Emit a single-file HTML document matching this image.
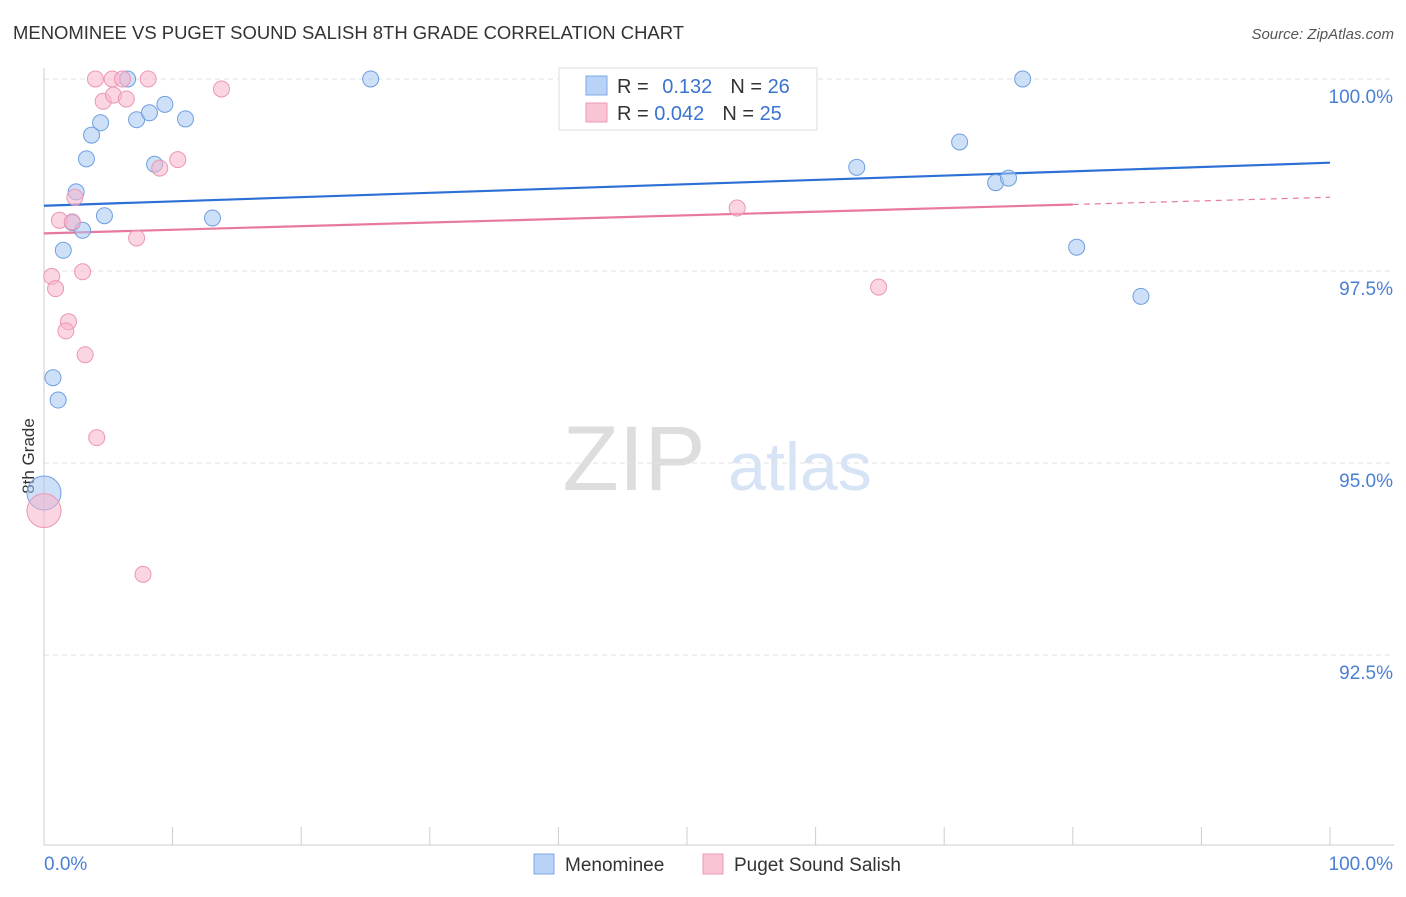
<!DOCTYPE html>
<html><head><meta charset="utf-8"><style>
body{margin:0;background:#fff;font-family:"Liberation Sans",sans-serif;}
svg text{font-family:"Liberation Sans",sans-serif;}
</style></head><body>
<svg id="chart" width="1406" height="892">
<text x="13" y="39" font-size="18" fill="#333" textLength="671" lengthAdjust="spacingAndGlyphs">MENOMINEE VS PUGET SOUND SALISH 8TH GRADE CORRELATION CHART</text>
<text x="1394" y="39" font-size="15" fill="#555" text-anchor="end" font-style="italic">Source: ZipAtlas.com</text>
<text transform="translate(34,456) rotate(-90)" font-size="17" fill="#333" text-anchor="middle">8th Grade</text>
<text x="634" y="490" font-size="92" fill="#ddd" text-anchor="middle" font-family="Liberation Serif">ZIP</text>
<text x="800" y="490" font-size="68" fill="#d6e4f6" text-anchor="middle">atlas</text>
<g id="grid"></g><g id="axes"></g><g id="lines"></g><g id="dots"></g>
<g>
<rect x="559" y="68" width="258" height="62" fill="#fff" stroke="#ddd"/>
<rect x="586" y="76" width="21" height="19" fill="#b8d3f5" stroke="#7fa9e6"/>
<rect x="586" y="103" width="21" height="19" fill="#f9c4d4" stroke="#eb9bb5"/>
<text x="617" y="93" font-size="20" fill="#333">R = <tspan fill="#3b73d0" dx="8">0.132</tspan><tspan fill="#333" dx="18">N = </tspan><tspan fill="#3b73d0">26</tspan></text>
<text x="617" y="120" font-size="20" fill="#333">R = <tspan fill="#3b73d0">0.042</tspan><tspan fill="#333" dx="18">N = </tspan><tspan fill="#3b73d0">25</tspan></text>
</g>
<g>
<rect x="534" y="854" width="20" height="20" fill="#b8d3f5" stroke="#7fa9e6"/>
<text x="565" y="871" font-size="19" fill="#333">Menominee</text>
<rect x="703" y="854" width="20" height="20" fill="#f9c4d4" stroke="#eb9bb5"/>
<text x="734" y="871" font-size="19" fill="#333">Puget Sound Salish</text>
</g>
</svg>
<script>
const blueX=[6.5,25.4,76.1,4.4,7.2,8.2,9.4,11.0,3.7,3.3,8.6,2.5,4.7,13.1,2.2,3.0,1.5,0.7,1.1,0,63.2,71.2,74.0,75.0,80.3,85.3];
const blueY=[100,100,100,99.43,99.47,99.56,99.67,99.48,99.27,98.96,98.89,98.53,98.22,98.19,98.13,98.03,97.77,96.11,95.82,94.61,98.85,99.18,98.65,98.71,97.81,97.17];
const blueR=[8,8,8,8,8,8,8,8,8,8,8,8,8,8,8,8,8,8,8,17,8,8,8,8,8,8];
const pinkX=[4.0,5.3,6.1,8.1,13.8,4.6,5.4,6.4,10.4,9.0,2.4,1.2,2.2,7.2,0.6,3.0,0.9,1.9,1.7,3.2,4.1,0,7.7,53.9,64.9];
const pinkY=[100,100,100,100,99.87,99.71,99.79,99.74,98.95,98.84,98.46,98.16,98.14,97.93,97.43,97.49,97.27,96.84,96.72,96.41,95.33,94.38,93.55,98.32,97.29];
const pinkR=[8,8,8,8,8,8,8,8,8,8,8,8,8,8,8,8,8,8,8,8,8,17,8,8,8];
const yTicks=[100,97.5,95,92.5];
const yTickLabels=["100.0%","97.5%","95.0%","92.5%"];
const blueTrend=[98.35,98.91];
const pinkTrend=[97.99,98.46];
const pinkSolidEnd=80;
const NS="http://www.w3.org/2000/svg";
const xs=v=>44+v*12.86;
const ys=v=>79+(100-v)/2.5*192;
function mk(p,tag,a){const e=document.createElementNS(NS,tag);for(const k in a)e.setAttribute(k,a[k]);document.getElementById(p).appendChild(e);return e;}
yTicks.forEach((t,i)=>{
  const l=mk('grid','line',{x1:44,x2:1394,y1:ys(t),y2:ys(t),stroke:'#e2e2e2','stroke-dasharray':'5,4'});
  
  
  const tx=mk('grid','text',{x:1393,y:ys(t)+24,'font-size':19,fill:'#4a7fd4','text-anchor':'end'});
  tx.textContent=yTickLabels[i];
  
  
});
let a=mk('axes','line',{x1:44,x2:44,y1:68,y2:845,stroke:'#ccc'});


a=mk('axes','line',{x1:44,x2:1394,y1:845,y2:845,stroke:'#ccc'});


for(let i=0;i<=10;i++){
  const t=mk('axes','line',{x1:xs(i*10),x2:xs(i*10),y1:827,y2:845,stroke:'#ccc'});
  
  
}
let xl=mk('axes','text',{x:44,y:870,'font-size':19,fill:'#4a7fd4'});xl.textContent='0.0%';


xl=mk('axes','text',{x:1393,y:870,'font-size':19,fill:'#4a7fd4','text-anchor':'end'});xl.textContent='100.0%';


const bl=mk('lines','line',{x1:xs(0),x2:xs(100),y1:ys(blueTrend[0]),y2:ys(blueTrend[1]),stroke:'#2c6fd6','stroke-width':2.2});


const pe=pinkTrend[0]+(pinkTrend[1]-pinkTrend[0])*pinkSolidEnd/100;
const pl=mk('lines','line',{x1:xs(0),x2:xs(pinkSolidEnd),y1:ys(pinkTrend[0]),y2:ys(pe),stroke:'#e8799e','stroke-width':2.2});


const pd=mk('lines','line',{x1:xs(pinkSolidEnd),x2:xs(100),y1:ys(pe),y2:ys(pinkTrend[1]),stroke:'#e8799e','stroke-width':1.2,'stroke-dasharray':'6,5'});


blueX.forEach((x,i)=>{
  const c=mk('dots','circle',{cx:xs(x),cy:ys(blueY[i]),r:blueR[i],fill:'rgba(165,198,242,0.55)',stroke:'#6f9fe0','stroke-width':1});
  
  
});
pinkX.forEach((x,i)=>{
  const c=mk('dots','circle',{cx:xs(x),cy:ys(pinkY[i]),r:pinkR[i],fill:'rgba(248,180,202,0.55)',stroke:'#eb97b3','stroke-width':1});
  
  
});
</script>
</body></html>
